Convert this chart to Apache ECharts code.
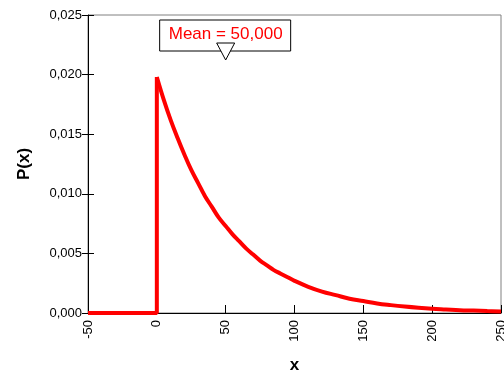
<!DOCTYPE html>
<html>
<head>
<meta charset="utf-8">
<script src="https://cdn.jsdelivr.net/npm/echarts@6/dist/echarts.min.js"></script>
<style>
html,body{margin:0;padding:0;background:#fff;}
#chart{width:504px;height:372px;}
</style>
</head>
<body>
<div id="chart"></div>
<script>
// 数据
var stepX = [-50, 0, 0];
var stepP = [0, 0, 0.0198];
var xs = [0, 5, 10, 15, 20, 25, 30, 35, 40, 45, 50, 55, 60, 65, 70, 75, 80, 85, 90, 95, 100,
          110, 120, 130, 140, 150, 160, 170, 180, 190, 200, 210, 220, 230, 240, 250];
var ps = [0.0198, 0.0179, 0.0162, 0.0147, 0.0133, 0.0120, 0.0109, 0.0098, 0.0089, 0.0080, 0.0073,
          0.0066, 0.0060, 0.0054, 0.0049, 0.0044, 0.0040, 0.0036, 0.0033, 0.0030, 0.0027,
          0.0022, 0.0018, 0.0015, 0.0012, 0.0010, 0.0008, 0.00066, 0.00054, 0.00044, 0.00036,
          0.00030, 0.00024, 0.00020, 0.00016, 0.00013];
var meanX = 50;
var meanLabel = 'Mean = 50,000';

function pairs(a, b) {
    var out = [];
    for (var i = 0; i < a.length; i++) out.push([a[i], b[i]]);
    return out;
}

var myChart = echarts.init(document.getElementById('chart'));
var fnt = '"Liberation Sans", Arial, sans-serif';
var lineSty = {color: '#ff0000', width: 4};
var option = {
    animation: false,
    grid: {
        left: 88, right: 3, top: 15, bottom: 59,
        outerBoundsMode: 'none',
        containLabel: false,
        show: true, borderColor: '#808080', borderWidth: 1
    },
    xAxis: {
        type: 'value',
        min: -50, max: 250, interval: 50,
        name: 'x',
        nameLocation: 'middle',
        nameGap: 44,
        nameTextStyle: {fontFamily: fnt, fontSize: 17, fontWeight: 'bold', color: '#000'},
        axisLine: {onZero: false, lineStyle: {color: '#000', width: 1}},
        axisTick: {inside: true, length: 8, lineStyle: {color: '#000'}},
        axisLabel: {rotate: 90, margin: 7, fontFamily: fnt, fontSize: 13, color: '#000'},
        splitLine: {show: false}
    },
    yAxis: [{
        type: 'value',
        min: 0, max: 0.025, interval: 0.005,
        name: 'P(x)',
        nameLocation: 'middle',
        nameRotate: 90,
        nameGap: 55,
        nameTextStyle: {fontFamily: fnt, fontSize: 17, fontWeight: 'bold', color: '#000'},
        axisLine: {show: true, onZero: false, lineStyle: {color: '#000', width: 1}},
        axisTick: {length: 6, lineStyle: {color: '#000'}},
        axisLabel: {
            margin: 6, fontFamily: fnt, fontSize: 13, color: '#000',
            formatter: function (v) { return v.toFixed(3).replace('.', ','); }
        },
        splitLine: {show: false}
    }, {
        type: 'value',
        position: 'left',
        min: 0, max: 0.025, interval: 0.005,
        axisLine: {show: false, onZero: false},
        axisTick: {show: true, inside: true, length: 6, lineStyle: {color: '#000'}},
        axisLabel: {show: false},
        splitLine: {show: false}
    }],
    series: [{
        type: 'line',
        data: pairs(stepX, stepP),
        symbol: 'none',
        lineStyle: lineSty,
        z: 3
    }, {
        type: 'line',
        data: pairs(xs, ps),
        smooth: 0.4,
        symbol: 'none',
        lineStyle: lineSty,
        z: 3
    }]
};
myChart.setOption(option, true);

// 均值标注
var pt = myChart.convertToPixel({gridIndex: 0}, [meanX, 0.025]);
var bx = pt[0];
var by = pt[1];
myChart.setOption({
    graphic: [{
        type: 'rect',
        shape: {x: bx - 66, y: by + 5, width: 131, height: 31},
        style: {fill: '#fff', stroke: '#000', lineWidth: 1},
        z: 10
    }, {
        type: 'text',
        x: bx, y: by + 19,
        style: {
            text: meanLabel, fill: '#ff0000', font: '17px ' + fnt,
            textAlign: 'center', textVerticalAlign: 'middle'
        },
        z: 11
    }, {
        type: 'polygon',
        shape: {points: [[bx - 9, by + 28], [bx + 9, by + 28], [bx, by + 45]]},
        style: {fill: '#fff', stroke: '#000', lineWidth: 1},
        z: 12
    }]
});
</script>
</body>
</html>
